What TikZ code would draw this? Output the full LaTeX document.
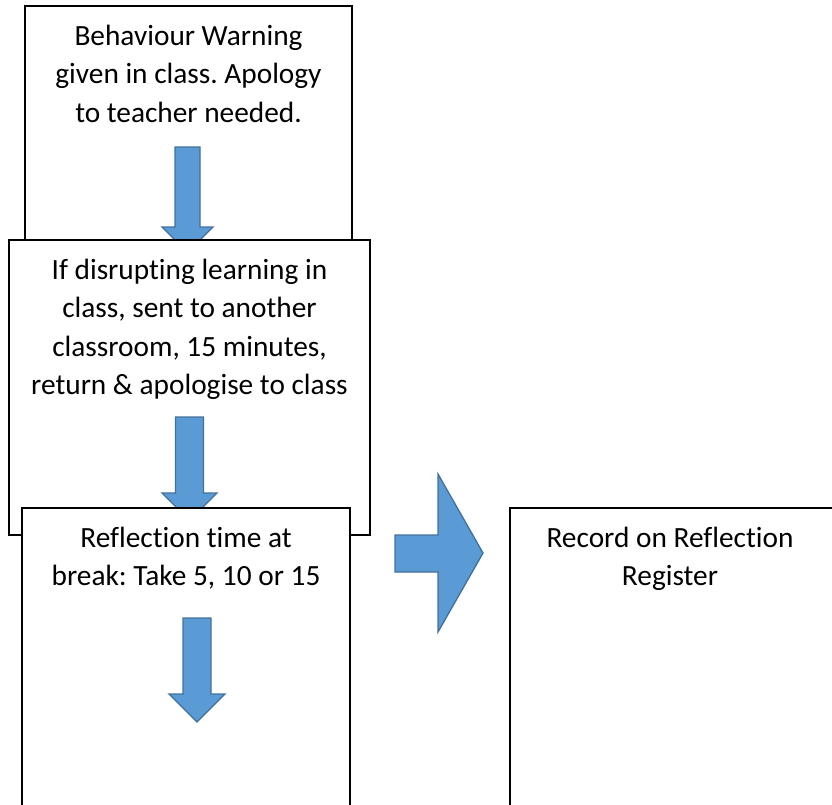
\documentclass[tikz,border=0pt]{standalone}
\usepackage{fontspec}
\setmainfont{Carlito}[Ligatures=NoCommon]
\usetikzlibrary{positioning}

\definecolor{arrowfill}{HTML}{5B9BD5}
\definecolor{arrowline}{HTML}{41719C}

\begin{document}
\frenchspacing
\begin{tikzpicture}[
    x=0.75pt, y=-0.75pt,
    stagebox/.style={draw=black, fill=white, line width=1pt, anchor=north west,
        inner sep=0pt, outer sep=0pt},
    stagetext/.style={anchor=north, inner sep=0pt, align=center,
        font=\fontsize{22}{28.9}\selectfont},
    blockarrow/.style={fill=arrowfill, draw=arrowline, line width=1pt,
        line join=miter}
]
    \useasboundingbox (0, 0) rectangle (832, 804);
    \clip (0, 0) rectangle (832, 804);

    % first stage
    \node[stagebox, minimum width=245.25pt, minimum height=198pt]
        (warn_box) at (25, 6) {};
    \node[stagetext, below=14pt of warn_box.north]
        (warn_text) {Behaviour Warning\\given in class. Apology\\to teacher needed.};
    \draw[blockarrow] (175, 147) -- (200, 147) -- (200, 227) -- (213, 227)
        -- (187.5, 252.5) -- (162, 227) -- (175, 227) -- cycle;

    % second stage
    \node[stagebox, minimum width=270.75pt, minimum height=221.25pt]
        (move_box) at (9, 240) {};
    \node[stagetext, below=14pt of move_box.north]
        (move_text) {If disrupting learning in\\class, sent to another\\classroom, 15 minutes,\\return \& apologise to class};
    \draw[blockarrow] (175.5, 417) -- (203.5, 417) -- (203.5, 493) -- (217, 493)
        -- (189.5, 520.5) -- (162, 493) -- (175.5, 493) -- cycle;

    % third stage
    \node[stagebox, minimum width=246pt, minimum height=240pt]
        (break_box) at (22, 508) {};
    \node[stagetext, below=14pt of break_box.north]
        (break_text) {Reflection time at\\break: Take 5, 10 or 15};
    \draw[blockarrow] (183, 618) -- (211, 618) -- (211, 694) -- (225, 694)
        -- (197, 722) -- (169, 694) -- (183, 694) -- cycle;

    % register
    \draw[blockarrow] (395, 535) -- (438, 535) -- (438, 474) -- (483, 553)
        -- (438, 632) -- (438, 572) -- (395, 572) -- cycle;
    \node[stagebox, minimum width=270pt, minimum height=240pt]
        (record_box) at (510, 508) {};
    \coordinate (record_top) at (670, 508);
    \node[stagetext, below=14pt of record_top]
        (record_text) {Record on Reflection\\Register};
\end{tikzpicture}
\end{document}
